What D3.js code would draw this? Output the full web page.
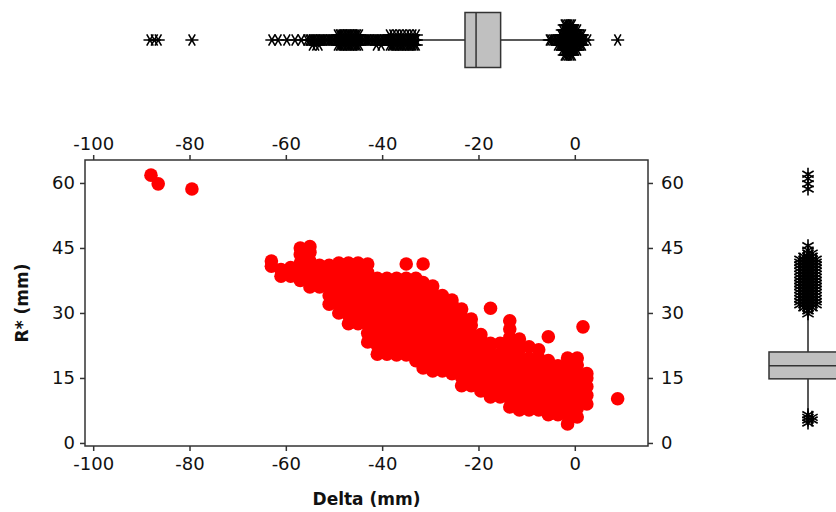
<!DOCTYPE html>
<html><head><meta charset="utf-8">
<script src="https://cdn.jsdelivr.net/npm/d3@7"></script>
<style>
html,body{margin:0;padding:0;background:#fff;}
svg{display:block;}
text{font-family:"DejaVu Sans",Verdana,sans-serif;}
</style></head>
<body><svg id="chart" width="836" height="512"></svg>
<script>
// ---------------- DATA ----------------
const xTicks = [-100, -80, -60, -40, -20, 0];
const yTicks = [0, 15, 30, 45, 60];
const xTitle = "Delta (mm)";
const yTitle = "R* (mm)";

// scatter cloud, read column by column: [Delta, [R* values]]
const cloudColumns = [
  [-63, [40.8, 42]],
  [-61, [38.5, 40]],
  [-59, [38.5, 40.5]],
  [-57, [37.5, 39.5, 41.5, 43.5, 45]],
  [-55, [36, 38, 40, 42, 44, 45.3]],
  [-53, [36, 38, 40, 41]],
  [-51, [32, 34, 36, 38, 40, 41]],
  [-49, [30, 32, 34, 36, 38, 40, 41.5]],
  [-47, [27.5, 29.5, 31.5, 33.5, 35.5, 37.5, 39.5, 41.5]],
  [-45, [27.5, 29.5, 31.5, 33.5, 35.5, 37.5, 39.5, 41.5]],
  [-43, [23.3, 25.3, 27.3, 29.3, 31.3, 33.3, 35.3, 37.3, 39.3, 41.3]],
  [-41, [20.5, 22.5, 24.5, 26.5, 28.5, 30.5, 32.5, 34.5, 36.5, 38]],
  [-39, [20.5, 22.5, 24.5, 26.5, 28.5, 30.5, 32.5, 34.5, 36.5, 38]],
  [-37, [20.3, 22.3, 24.3, 26.3, 28.3, 30.3, 32.3, 34.3, 36.3, 38]],
  [-35, [20.3, 22.3, 24.3, 26.3, 28.3, 30.3, 32.3, 34.3, 36.3, 38, 41.3]],
  [-33, [19, 21, 23, 25, 27, 29, 31, 33, 35, 37, 38]],
  [-31.5, [17.3, 19.3, 21.3, 23.3, 25.3, 27.3, 29.3, 31.3, 33.3, 35.3, 37, 41.3]],
  [-29.5, [16.6, 18.6, 20.6, 22.6, 24.6, 26.6, 28.6, 30.6, 32.6, 34.6, 36.2]],
  [-27.5, [16.6, 18.6, 20.6, 22.6, 24.6, 26.6, 28.6, 30.6, 32.6, 34]],
  [-25.5, [16, 18, 20, 22, 24, 26, 28, 30, 32, 33]],
  [-23.5, [13.2, 15.2, 17.2, 19.2, 21.2, 23.2, 25.2, 27.2, 29.2, 30.9]],
  [-21.5, [13.2, 15.2, 17.2, 19.2, 21.2, 23.2, 25.2, 27.2, 28.6]],
  [-19.5, [12, 14, 16, 18, 20, 22, 24, 25]],
  [-17.5, [10.6, 12.6, 14.6, 16.6, 18.6, 20.6, 22.6, 23, 31.1]],
  [-15.5, [10.6, 12.6, 14.6, 16.6, 18.6, 20.6, 23]],
  [-13.5, [8.3, 10.3, 12.3, 14.3, 16.3, 18.3, 20.3, 22.3, 24.3, 26.3, 28.2]],
  [-11.5, [7.6, 9.6, 11.6, 13.6, 15.6, 17.6, 19.6, 21.6, 24]],
  [-9.5, [7.6, 9.6, 11.6, 13.6, 15.6, 17.6, 19.6, 22.2]],
  [-7.5, [7.6, 9.6, 11.6, 13.6, 15.6, 17.6, 19.6, 21.5]],
  [-5.5, [6.5, 8.5, 10.5, 12.5, 14.5, 16.5, 19, 24.5]],
  [-3.5, [6.5, 8.5, 10.5, 12.5, 14.5, 16.5, 17.8]],
  [-1.5, [4.4, 6.4, 8.4, 10.4, 12.4, 14.4, 16.4, 18.4, 19.6]],
  [0.5, [6, 8, 10, 12, 14, 16, 18, 19.6]],
  [2.5, [9, 11, 13, 15, 16]]
];
// isolated observations [Delta, R*]
const extraPoints = [[1.7, 26.8], [8.9, 10.2], [-88, 61.8], [-86.5, 59.8], [-79.5, 58.6]];

// box plot summaries: [lower whisker, Q1, median, Q3, upper whisker]
const deltaStats = [-32.6, -22.8, -20.5, -15.4, -5.6];
const rStats = [6.9, 14.8, 17.8, 21.0, 29.1];

// outliers: [value, number of observations]
const deltaOutliers = [
  [-88.2,1],[-87.3,1],[-86.5,1],[-79.5,1],
  [-62.9,1],[-61.6,1],[-59.8,1],[-58.1,1],[-56.8,1],
  [-55.6,1],[-55.2,1],[-54.9,1],[-54.5,2],[-54.2,1],[-53.8,2],[-53.5,1],[-53.1,2],[-52.8,1],[-52.4,1],
  [-52.1,1],[-51.7,1],[-51.4,1],[-51.0,1],[-50.7,1],[-50.3,1],[-50.0,1],[-49.6,1],
  [-49.3,3],[-48.9,3],[-48.6,3],[-48.2,3],[-47.9,3],[-47.5,3],[-47.2,3],[-46.8,3],[-46.5,3],[-46.1,3],
  [-45.8,3],[-45.4,3],[-45.1,3],[-44.7,3],
  [-44.4,1],[-44.0,1],[-43.7,1],[-43.3,1],[-43.0,1],[-42.6,1],[-42.3,1],[-41.9,1],[-41.6,1],[-41.2,2],
  [-40.9,1],[-40.5,1],[-40.2,2],[-39.8,1],[-39.5,1],[-39.1,1],[-38.8,1],
  [-38.5,3],[-38.1,2],[-37.8,3],[-37.4,2],[-37.1,3],[-36.7,2],[-36.4,3],[-36.0,2],[-35.7,3],[-35.3,2],
  [-35.0,3],[-34.6,2],[-34.3,3],[-33.9,2],[-33.6,3],[-33.2,2],[-32.9,3],
  [-5.3,1],[-5.0,1],[-4.6,1],[-4.3,1],[-3.9,1],[-3.6,2],[-3.2,2],[-2.9,3],[-2.6,5],[-2.2,7],[-1.9,7],
  [-1.5,7],[-1.2,7],[-0.8,7],[-0.5,7],[-0.1,5],[0.2,5],[0.6,5],[0.9,3],[1.3,3],[1.6,3],[2.0,1],[2.7,1],[8.9,1]
];
const rOutliers = [
  [4.6,1],[5.3,2],[5.9,2],[6.5,1],
  [29.8,1],[30.5,1],[31.2,3],[31.9,5],[32.6,5],[33.3,5],[34,5],[34.7,5],[35.4,5],[36.1,5],[36.8,5],
  [37.5,5],[38.2,5],[38.9,5],[39.6,5],[40.3,5],[41,5],[41.7,5],[42.4,5],[43.1,3],[43.8,2],[44.5,1],[45.5,1],
  [58.6,1],[59.8,1],[61,1],[62,1]
];

// ---------------- LAYOUT ----------------
const svg = d3.select("#chart");
const frame = {left: 85, right: 648, top: 160, bottom: 446};
const x = d3.scaleLinear().domain([-101.7, 15.2]).range([frame.left, frame.right]);
const y = d3.scaleLinear().domain([-0.7, 65.3]).range([frame.bottom, frame.top]);

const FONT = 18;
const fmt = d => String(d);

// scatter points
const pts = [];
cloudColumns.forEach(([dx, ys]) => ys.forEach(v => pts.push([dx, v])));
extraPoints.forEach(p => pts.push(p));
svg.append("g").selectAll("circle").data(pts).join("circle")
  .attr("cx", d => x(d[0])).attr("cy", d => y(d[1])).attr("r", 6.8)
  .attr("fill", "#ff0000");

// frame
svg.append("rect").attr("x", frame.left).attr("y", frame.top)
  .attr("width", frame.right - frame.left).attr("height", frame.bottom - frame.top)
  .attr("fill", "none").attr("stroke", "#333").attr("stroke-width", 1.5);

function styleAxis(g){
  g.select(".domain").remove();
  g.selectAll(".tick line").attr("stroke", "#333").attr("stroke-width", 1.5);
  g.selectAll(".tick text").attr("fill", "#111").style("font-size", FONT + "px")
    .style("font-family", '"DejaVu Sans", Verdana, sans-serif');
}
svg.append("g").attr("transform", `translate(0,${frame.bottom})`)
  .call(d3.axisBottom(x).tickValues(xTicks).tickFormat(fmt).tickSize(5).tickPadding(6)).call(styleAxis);
svg.append("g").attr("transform", `translate(0,${frame.top})`)
  .call(d3.axisTop(x).tickValues(xTicks).tickFormat(fmt).tickSize(5).tickPadding(5)).call(styleAxis);
svg.append("g").attr("transform", `translate(${frame.left},0)`)
  .call(d3.axisLeft(y).tickValues(yTicks).tickFormat(fmt).tickSize(5).tickPadding(5)).call(styleAxis);
svg.append("g").attr("transform", `translate(${frame.right},0)`)
  .call(d3.axisRight(y).tickValues(yTicks).tickFormat(fmt).tickSize(5).tickPadding(8)).call(styleAxis);

// axis titles
svg.append("text").attr("x", (frame.left + frame.right) / 2).attr("y", 505)
  .attr("text-anchor", "middle").style("font-size", "17px").style("font-weight", "bold")
  .attr("fill", "#111").text(xTitle);
svg.append("text").attr("transform", `translate(28,${(frame.top + frame.bottom) / 2}) rotate(-90)`)
  .attr("text-anchor", "middle").style("font-size", "17px").style("font-weight", "bold")
  .attr("fill", "#111").text(yTitle);

// ---------------- BOX PLOTS ----------------
const star = d3.symbol().type(d3.symbolAsterisk).size(120);
function stackLanes(list){
  const out = [];
  list.forEach(([v, n]) => {
    for (let i = 0; i < n; i++) {
      const lane = i === 0 ? 0 : (i % 2 === 1 ? (i + 1) / 2 : -i / 2);
      out.push({v, lane});
    }
  });
  return out;
}

// top (horizontal) box plot for Delta
const topC = 40, topHalf = 27.5, topLane = 5;
const gt = svg.append("g");
gt.append("line").attr("x1", x(deltaStats[0])).attr("x2", x(deltaStats[1]))
  .attr("y1", topC).attr("y2", topC).attr("stroke", "#222").attr("stroke-width", 1.5);
gt.append("line").attr("x1", x(deltaStats[3])).attr("x2", x(deltaStats[4]))
  .attr("y1", topC).attr("y2", topC).attr("stroke", "#222").attr("stroke-width", 1.5);
gt.append("rect").attr("x", x(deltaStats[1])).attr("y", topC - topHalf)
  .attr("width", x(deltaStats[3]) - x(deltaStats[1])).attr("height", 2 * topHalf)
  .attr("fill", "#c0c0c0").attr("stroke", "#333").attr("stroke-width", 1.5);
gt.append("line").attr("x1", x(deltaStats[2])).attr("x2", x(deltaStats[2]))
  .attr("y1", topC - topHalf).attr("y2", topC + topHalf).attr("stroke", "#333").attr("stroke-width", 1.5);
gt.selectAll("path").data(stackLanes(deltaOutliers)).join("path")
  .attr("d", star)
  .attr("transform", d => `translate(${x(d.v)},${topC + d.lane * topLane}) rotate(90)`)
  .attr("fill", "none").attr("stroke", "#000").attr("stroke-width", 1.6);

// right (vertical) box plot for R*
const rC = 808, rHalf = 39, rLane = 4;
const gr = svg.append("g");
gr.append("line").attr("y1", y(rStats[0])).attr("y2", y(rStats[1]))
  .attr("x1", rC).attr("x2", rC).attr("stroke", "#222").attr("stroke-width", 1.5);
gr.append("line").attr("y1", y(rStats[3])).attr("y2", y(rStats[4]))
  .attr("x1", rC).attr("x2", rC).attr("stroke", "#222").attr("stroke-width", 1.5);
gr.append("rect").attr("x", rC - rHalf).attr("y", y(rStats[3]))
  .attr("width", 2 * rHalf).attr("height", y(rStats[1]) - y(rStats[3]))
  .attr("fill", "#c0c0c0").attr("stroke", "#333").attr("stroke-width", 1.5);
gr.append("line").attr("y1", y(rStats[2])).attr("y2", y(rStats[2]))
  .attr("x1", rC - rHalf).attr("x2", rC + rHalf).attr("stroke", "#333").attr("stroke-width", 1.5);
gr.selectAll("path").data(stackLanes(rOutliers)).join("path")
  .attr("d", star)
  .attr("transform", d => `translate(${rC + d.lane * rLane},${y(d.v)})`)
  .attr("fill", "none").attr("stroke", "#000").attr("stroke-width", 1.6);
</script></body></html>
